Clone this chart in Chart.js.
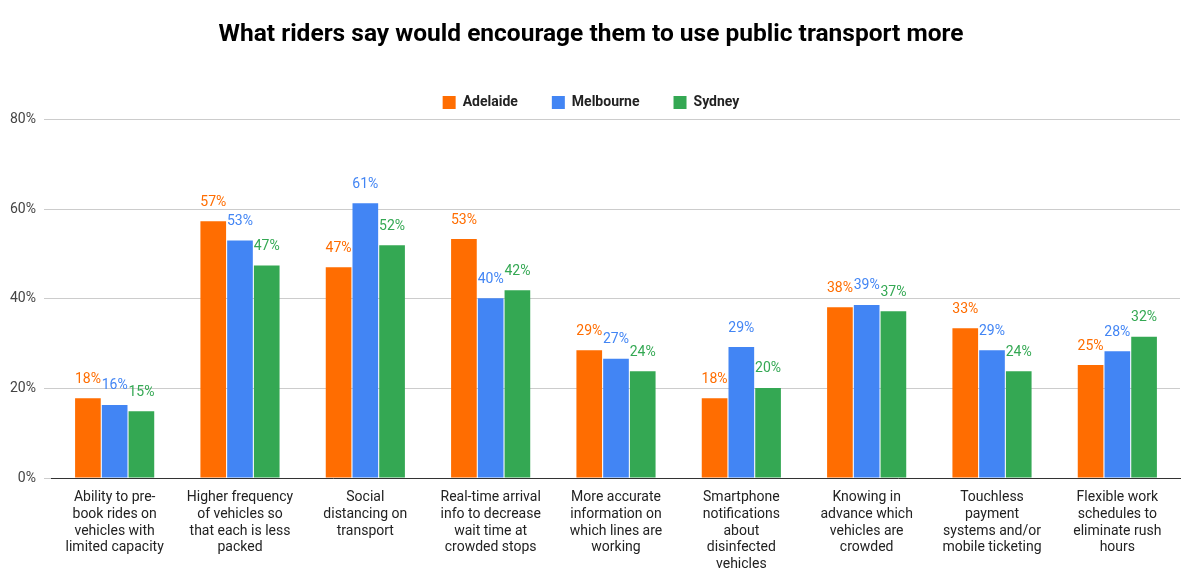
<!DOCTYPE html>
<html><head><meta charset="utf-8">
<script src="https://cdn.jsdelivr.net/npm/chart.js@4"></script>
<style>html,body{margin:0;padding:0;background:#fff}#w{width:1190px;height:582px}</style>
</head><body><div id="w"><canvas id="c"></canvas></div>
<script>
const categories = [
  ["Ability to pre-","book rides on","vehicles with","limited capacity"],
  ["Higher frequency","of vehicles so","that each is less","packed"],
  ["Social","distancing on","transport"],
  ["Real-time arrival","info to decrease","wait time at","crowded stops"],
  ["More accurate","information on","which lines are","working"],
  ["Smartphone","notifications","about","disinfected","vehicles"],
  ["Knowing in","advance which","vehicles are","crowded"],
  ["Touchless","payment","systems and/or","mobile ticketing"],
  ["Flexible work","schedules to","eliminate rush","hours"]
];
const adelaide  = [17.8, 57.3, 47.0, 53.3, 28.5, 17.8, 38.1, 33.4, 25.2];
const melbourne = [16.3, 53.0, 61.3, 40.1, 26.6, 29.2, 38.6, 28.5, 28.3];
const sydney    = [14.9, 47.4, 51.9, 41.9, 23.8, 20.1, 37.2, 23.8, 31.5];
const yTicks = [0, 20, 40, 60, 80];

const F = "Roboto, 'Noto Sans', sans-serif";
const labelPlugin = {
  id: 'vals',
  afterDatasetsDraw(chart) {
    const ctx = chart.ctx;
    ctx.save();
    ctx.font = "14px " + F;
    ctx.textAlign = 'center';
    ctx.textBaseline = 'bottom';
    chart.data.datasets.forEach((ds, i) => {
      chart.getDatasetMeta(i).data.forEach((bar, j) => {
        ctx.fillStyle = ds.backgroundColor;
        ctx.fillText(Math.round(ds.data[j]) + '%', bar.x, bar.y - 12);
      });
    });
    ctx.restore();
  }
};
new Chart(document.getElementById('c'), {
  type: 'bar',
  data: {
    labels: categories,
    datasets: [
      {label: 'Adelaide', data: adelaide, backgroundColor: '#ff6d01'},
      {label: 'Melbourne', data: melbourne, backgroundColor: '#4285f4'},
      {label: 'Sydney', data: sydney, backgroundColor: '#34a853'}
    ]
  },
  options: {
    responsive: true, maintainAspectRatio: false, animation: false,
    layout: {padding: {left: 2, right: 10, top: 20, bottom: 6}},
    datasets: {bar: {categoryPercentage: 0.64, barPercentage: 0.96}},
    plugins: {
      title: {display: true, text: 'What riders say would encourage them to use public transport more',
        color: '#000', font: {family: F, size: 24.5, weight: 'bold'}, padding: {top: 0, bottom: 12}},
      legend: {labels: {boxWidth: 13, boxHeight: 13, color: '#222', font: {family: F, size: 14, weight: 'bold'}, padding: 34}},
      tooltip: {enabled: false}
    },
    scales: {
      x: {grid: {display: false}, border: {color: '#333'},
        ticks: {color: '#222', font: {family: F, size: 14}, maxRotation: 0, autoSkip: false}},
      y: {min: 0, max: 80, afterBuildTicks: a => { a.ticks = yTicks.map(v => ({value: v})); },
        grid: {color: '#ccc'}, border: {display: false},
        ticks: {color: '#444', font: {family: F, size: 14}, callback: v => v + '%', padding: 8}}
    }
  },
  plugins: [labelPlugin]
});
</script></body></html>
